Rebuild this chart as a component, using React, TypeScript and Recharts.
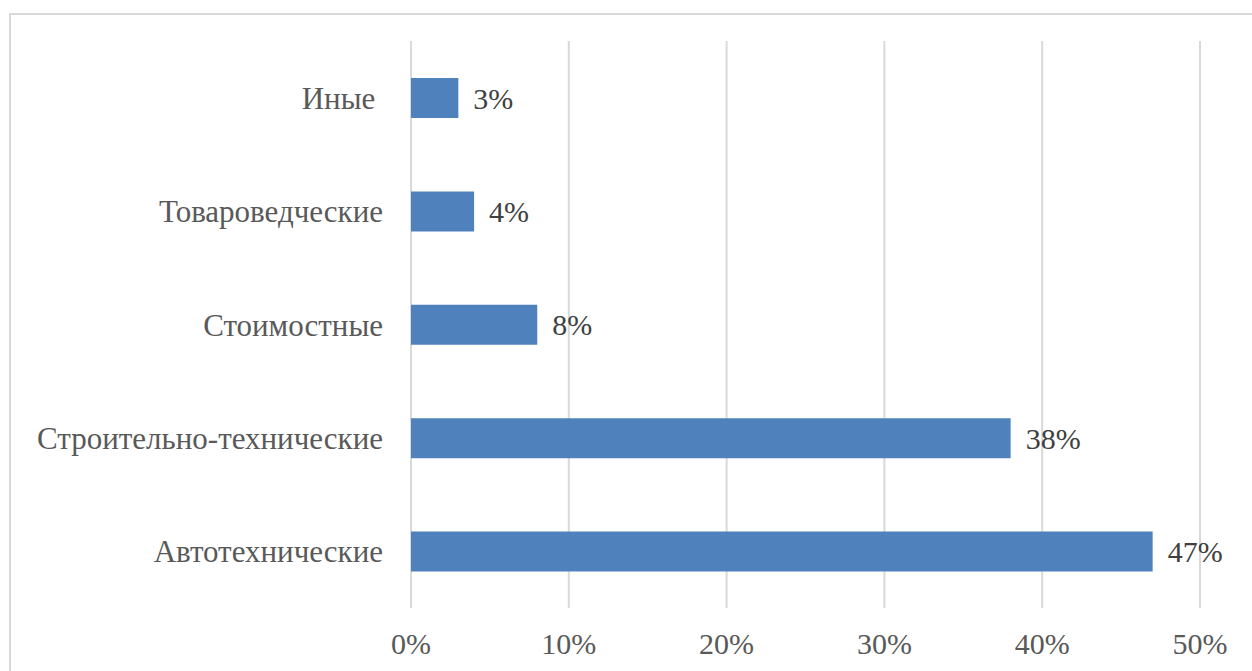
import { Bar, BarChart, CartesianGrid, LabelList, XAxis, YAxis } from "recharts";

// the source label "Иные" carries a trailing space, kept as a no-break space
const categories = ["Иные\u00a0", "Товароведческие", "Стоимостные", "Строительно-технические", "Автотехнические"];
const shares = [3, 4, 8, 38, 47];
const xTicks = [0, 10, 20, 30, 40, 50];

const chartData = categories.map((name, i) => ({ name, value: shares[i] }));

const FONT = "Liberation Serif";

export default function App() {
  return (
    <div
      style={{
        position: "fixed",
        left: 0,
        top: 0,
        width: 1252,
        height: 671,
        overflow: "hidden",
        background: "#fff",
        fontFamily: FONT,
      }}
    >
      {/* chart frame, cut off on the right and bottom like the source */}
      <div
        style={{
          position: "absolute",
          left: 9,
          top: 13,
          width: 1300,
          height: 700,
          border: "2px solid #d9d9d9",
        }}
      />
      <div style={{ position: "absolute", left: 0, top: 0 }}>
        <BarChart
          width={1252}
          height={671}
          data={chartData}
          layout="vertical"
          margin={{ top: 41, right: 52, left: 0, bottom: 23 }}
          style={{ fontFamily: FONT }}
        >
          <CartesianGrid horizontal={false} stroke="#d9d9d9" strokeWidth={2} />
          <XAxis
            type="number"
            domain={[0, 50]}
            ticks={xTicks}
            tickFormatter={(v: number) => `${v}%`}
            axisLine={false}
            tickLine={false}
            tickSize={0}
            tickMargin={25}
            height={40}
            interval={0}
            tick={{ fontSize: 30, fill: "#595959", fontFamily: FONT }}
          />
          <YAxis
            type="category"
            dataKey="name"
            width={411}
            axisLine={false}
            tickLine={false}
            tickSize={0}
            tickMargin={28}
            interval={0}
            tick={{ fontSize: 31, fill: "#595959", fontFamily: FONT }}
          />
          <Bar dataKey="value" fill="#4f81bd" barSize={40} isAnimationActive={false}>
            <LabelList
              dataKey="value"
              position="right"
              offset={15}
              formatter={(v: number) => `${v}%`}
              fontFamily={FONT}
              fontSize={30}
              fill="#404040"
            />
          </Bar>
        </BarChart>
      </div>
    </div>
  );
}
